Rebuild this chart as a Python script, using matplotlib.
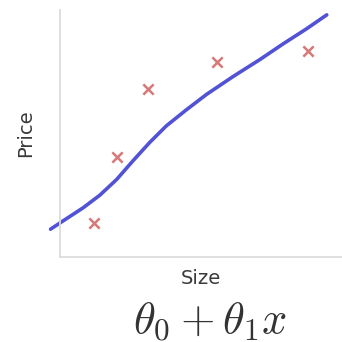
import matplotlib
matplotlib.use("Agg")
import matplotlib.pyplot as plt

plt.rcParams["mathtext.fontset"] = "cm"

# training points (size, price), arbitrary units
size_pts = [1.21, 2.02, 3.12, 5.57, 8.79]
price_pts = [1.38, 4.05, 6.80, 7.89, 8.34]

# hand drawn fit line
line_x = [-0.33, 0.24, 0.83, 1.42, 2.01, 2.60, 3.19, 3.78, 4.49, 5.20, 6.15, 7.09, 7.92, 8.75, 9.46]
line_y = [1.12, 1.55, 1.99, 2.50, 3.13, 3.90, 4.64, 5.31, 5.96, 6.58, 7.31, 7.99, 8.63, 9.24, 9.80]

fig = plt.figure(figsize=(3.42, 3.42), dpi=100)
ax = fig.add_axes([0.175, 0.249, 0.825, 0.722])

ax.plot(line_x, line_y, color="#5252d6", lw=2.6, solid_capstyle="round",
        solid_joinstyle="round", clip_on=False)
ax.scatter(size_pts, price_pts, marker="x", s=55, color="#d26a6a", linewidths=1.8, alpha=0.9)

ax.set_xlim(0, 10)
ax.set_ylim(0, 10)
ax.set_xticks([])
ax.set_yticks([])
for side in ["top", "right"]:
    ax.spines[side].set_visible(False)
for side in ["left", "bottom"]:
    ax.spines[side].set_color("#dcdcdc")
    ax.spines[side].set_linewidth(1.3)

ax.set_xlabel("Size", fontsize=14, color="#3a3a3a", labelpad=9)
ax.set_ylabel("Price", fontsize=14, color="#3a3a3a", labelpad=18)

fig.text(0.615, 0.06, r"$\theta_0 + \theta_1 x$", fontsize=32, ha="center", va="center", color="#333333")

fig.savefig("out.png", dpi=100)
